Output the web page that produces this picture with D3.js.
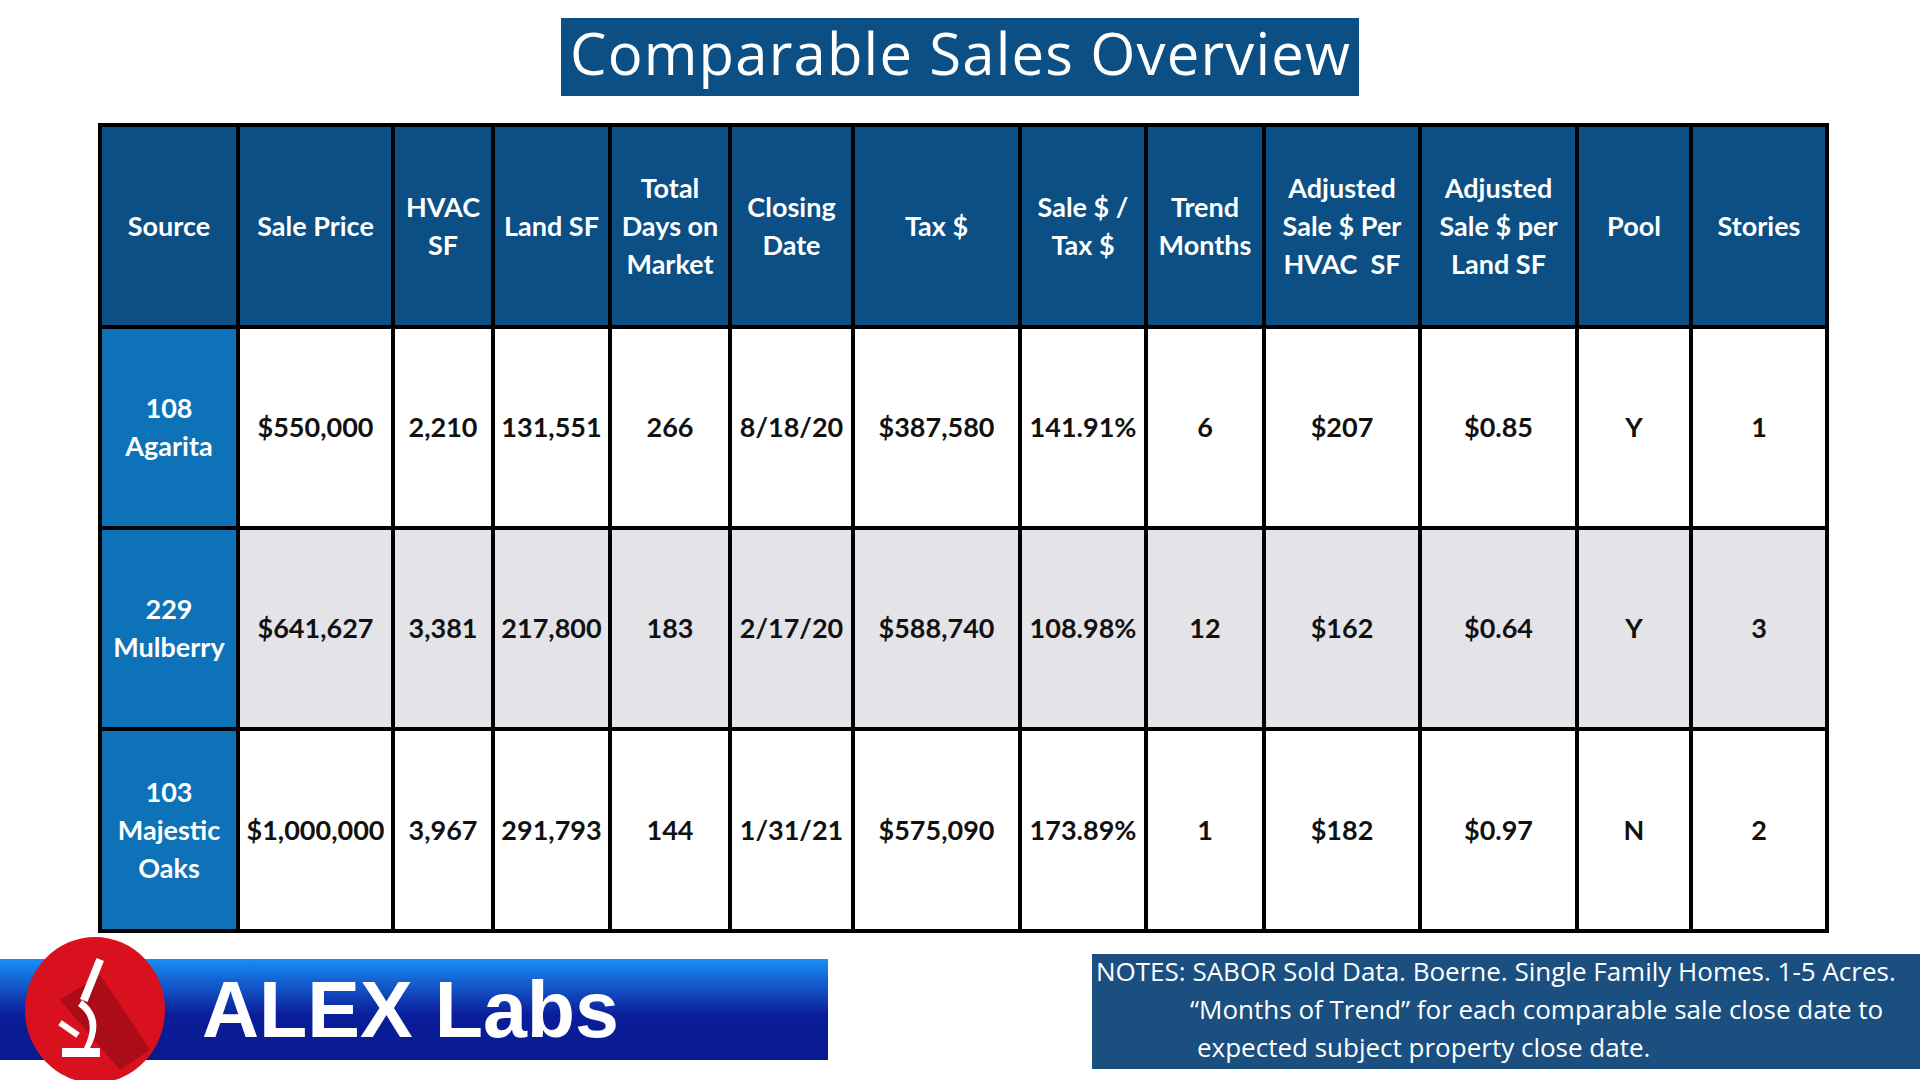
<!DOCTYPE html>
<html><head><meta charset="utf-8">
<script src="https://cdn.jsdelivr.net/npm/d3@7"></script>
<style>body{margin:0;background:#fff}svg{display:block}</style></head>
<body><svg id="c" width="1920" height="1080"></svg>
<script>
const headers=[["Source"],["Sale Price"],["HVAC","SF"],["Land SF"],["Total","Days on","Market"],["Closing","Date"],["Tax $"],["Sale $ /","Tax $"],["Trend","Months"],["Adjusted","Sale $ Per","HVAC  SF"],["Adjusted","Sale $ per","Land SF"],["Pool"],["Stories"]];
const sources=[["108","Agarita"],["229","Mulberry"],["103","Majestic","Oaks"]];
const salePrice=["$550,000","$641,627","$1,000,000"];
const hvacSF=["2,210","3,381","3,967"];
const landSF=["131,551","217,800","291,793"];
const daysOnMarket=["266","183","144"];
const closingDate=["8/18/20","2/17/20","1/31/21"];
const tax=["$387,580","$588,740","$575,090"];
const saleTax=["141.91%","108.98%","173.89%"];
const trendMonths=["6","12","1"];
const adjHvac=["$207","$162","$182"];
const adjLand=["$0.85","$0.64","$0.97"];
const pool=["Y","Y","N"];
const stories=["1","3","2"];
const cols=[salePrice,hvacSF,landSF,daysOnMarket,closingDate,tax,saleTax,trendMonths,adjHvac,adjLand,pool,stories];

const edges=[100,238,393,493,610,730,853,1020,1146,1264,1420,1577,1691,1827];
const rowEdges=[125,327,528,729,931];
const svg=d3.select("#c");
const F="Lato, 'Open Sans', sans-serif";

svg.append("rect").attr("x",561).attr("y",18).attr("width",798).attr("height",78).attr("fill","#0b4f84");
svg.append("text").attr("x",960).attr("y",75).attr("text-anchor","middle").attr("fill","#fff")
  .attr("font-family","'Open Sans', sans-serif").attr("font-size",58).attr("textLength",780).text("Comparable Sales Overview");

function cell(x0,x1,y0,y1,fill,lines,color,size){
  svg.append("rect").attr("x",x0).attr("y",y0).attr("width",x1-x0).attr("height",y1-y0).attr("fill",fill);
  const lh=size*1.4, cy=(y0+y1)/2, n=lines.length;
  lines.forEach((l,i)=>svg.append("text").attr("x",(x0+x1)/2).attr("y",cy+(i-(n-1)/2)*lh).attr("dy","0.36em")
    .attr("text-anchor","middle").attr("fill",color).attr("font-family",F).attr("font-weight","bold")
    .attr("font-size",size).style("white-space","pre").text(l));
}
headers.forEach((h,i)=>cell(edges[i],edges[i+1],rowEdges[0],rowEdges[1],"#0b4f84",h,"#fff",27));
const rowFill=["#ffffff","#e4e4e8","#ffffff"];
sources.forEach((s,r)=>{
  cell(edges[0],edges[1],rowEdges[r+1],rowEdges[r+2],"#0e72b8",s,"#fff",27);
  cols.forEach((c,j)=>cell(edges[j+1],edges[j+2],rowEdges[r+1],rowEdges[r+2],rowFill[r],[c[r]],"#111",27));
});
edges.forEach(x=>svg.append("line").attr("x1",x).attr("x2",x).attr("y1",rowEdges[0]).attr("y2",rowEdges[4]).attr("stroke","#000").attr("stroke-width",4));
rowEdges.forEach(y=>svg.append("line").attr("x1",edges[0]-2).attr("x2",edges[13]+2).attr("y1",y).attr("y2",y).attr("stroke","#000").attr("stroke-width",4));

const defs=svg.append("defs");
const g=defs.append("linearGradient").attr("id","bg").attr("x1",0).attr("x2",0).attr("y1",0).attr("y2",1);
g.append("stop").attr("offset","0%").attr("stop-color","#1a8ef5");
g.append("stop").attr("offset","55%").attr("stop-color","#0a1e9a");
g.append("stop").attr("offset","100%").attr("stop-color","#071a8f");
svg.append("rect").attr("x",0).attr("y",959).attr("width",828).attr("height",101).attr("fill","url(#bg)");
svg.append("ellipse").attr("cx",95).attr("cy",1010).attr("rx",70).attr("ry",73).attr("fill","#d9101e");
svg.append("path").attr("d","M60,1000 L120,1070 L150,1050 L100,975 Z").attr("fill","#8a0a14").attr("opacity",0.6);
const m=svg.append("g").attr("fill","#fff");
m.append("rect").attr("x",62).attr("y",1048).attr("width",38).attr("height",9);
m.append("rect").attr("x",88).attr("y",958).attr("width",8).attr("height",44).attr("transform","rotate(22,92,980)");
m.append("rect").attr("x",58).attr("y",1026).attr("width",22).attr("height",6).attr("transform","rotate(35,69,1029)");
m.append("path").attr("d","M82,1000 Q106,1018 90,1048 L84,1048 Q98,1020 78,1006 Z");
svg.append("text").attr("x",202).attr("y",1037).attr("fill","#fff").attr("font-family","'Liberation Sans', Arial, sans-serif")
  .attr("font-weight","bold").attr("font-size",79).text("ALEX Labs");

svg.append("rect").attr("x",1092).attr("y",954).attr("width",828).attr("height",115).attr("fill","#1a4f80");
const notes=[[1096,"NOTES: SABOR Sold Data. Boerne. Single Family Homes. 1-5 Acres."],[1190,"“Months of Trend” for each comparable sale close date to"],[1197,"expected subject property close date."]];
notes.forEach((n,i)=>svg.append("text").attr("x",n[0]).attr("y",981+i*38).attr("fill","#fff")
  .attr("font-family","'Open Sans', sans-serif").attr("font-size",26).text(n[1]));
</script></body></html>
